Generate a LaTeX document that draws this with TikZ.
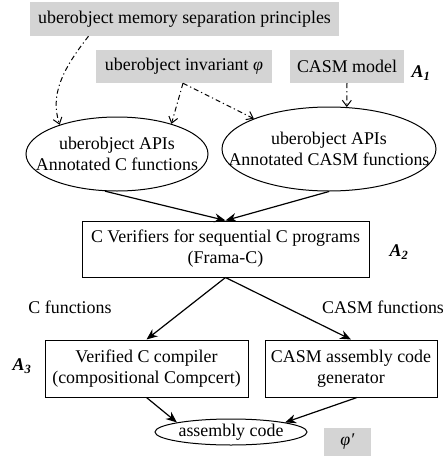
\documentclass[tikz,border=0pt]{standalone}
\usepackage{fontspec}
\setmainfont{Liberation Serif}
\usetikzlibrary{shapes.geometric,arrows.meta}
\begin{document}
\begin{tikzpicture}[x=1pt,y=-1pt,
  font=\fontsize{17.9}{21}\selectfont,
  greybox/.style={fill=black!17,draw=none,inner sep=0pt,minimum height=33pt},
  stepbox/.style={draw,line width=1pt,inner sep=0pt,minimum height=57pt,align=center},
  oval/.style={ellipse,draw,line width=1pt,inner sep=0pt},
  inoval/.style={label={[align=center]center:#1}},
  flow/.style={line width=1.2pt,-{Stealth[length=11pt,width=9pt]}},
  hint/.style={line width=1pt,dash pattern=on 5pt off 3pt on 1.2pt off 3pt,-{Straight Barb[length=6pt,width=9pt]}},
  tag/.style={font=\fontsize{17.9}{21}\selectfont\bfseries\itshape}]
\useasboundingbox (0,0) rectangle (443,464);

% inputs
\node[greybox,minimum width=309pt,minimum height=34pt] (msp) at (184.5,19) {uberobject memory separation principles};
\node[greybox,minimum width=176pt] (inv) at (184,66.5) {uberobject invariant \textit{φ}};
\node[greybox,minimum width=114pt] (casm) at (347,66.5) {CASM model};
\node[tag] (a1) at (421,73) {A\textsubscript{1}};

% annotated APIs
\node[oval,minimum width=182pt,minimum height=74pt,inoval={uberobject APIs\\Annotated C functions}] (capi) at (117,154) {};
\node[oval,minimum width=214pt,minimum height=84pt,inoval={uberobject APIs\\Annotated CASM functions}] (sapi) at (329,149) {};

% verification
\node[stepbox,minimum width=287pt,minimum height=56pt] (ver) at (225.5,249) {C Verifiers for sequential C programs\\(Frama-C)};
\node[tag] (a2) at (399,252) {A\textsubscript{2}};

% compilation
\node[stepbox,minimum width=203pt] (comp) at (146.5,368.5) {Verified C compiler\\(compositional Compcert)};
\node[stepbox,minimum width=172pt] (gen) at (351,368.5) {CASM assembly code\\generator};
\node[tag] (a3) at (22,366) {A\textsubscript{3}};
\node (lc) at (70,307) {C functions};
\node (ls) at (383,307) {CASM functions};

% output
\node[oval,minimum width=152pt,minimum height=26pt,inoval={assembly code}] (asm) at (231,432) {};
\node[greybox,minimum width=47pt,minimum height=28pt] (phi) at (347.5,442) {\textit{φ′}};

% dash-dotted dependencies
\coordinate (msp-out) at ([xshift=-96pt]msp.south);
\draw[hint] (msp-out) .. controls (62,70) and (50,95) .. (capi.153);
\draw[hint] ([xshift=-1pt]inv.south) -- (capi.29);
\draw[hint] ([xshift=-1pt]inv.south) -- (sapi.158);
\draw[hint] (casm.south) -- (sapi.67);

% solid flow
\draw[flow] (capi.252) -- (ver.north);
\draw[flow] (sapi.south) -- (ver.north);
\draw[flow] (ver.south) -- (comp.north);
\draw[flow] (ver.south) -- (gen.north);
\draw[flow] (comp.south) -- (asm.north west);
\draw[flow] ([xshift=6pt]gen.south) -- (asm.north east);
\end{tikzpicture}
\end{document}
